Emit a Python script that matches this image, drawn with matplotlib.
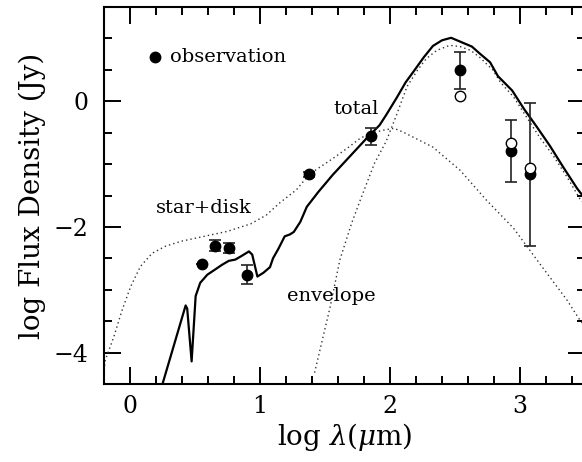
import matplotlib
matplotlib.use("Agg")
import matplotlib.pyplot as plt
from matplotlib.ticker import MultipleLocator

plt.rcParams['font.family'] = ['DejaVu Serif']
plt.rcParams['mathtext.fontset'] = 'dejavuserif'

# observed photometry (log lambda [um], log F [Jy])
obs_x = [0.55, 0.65, 0.76, 0.90, 1.38, 1.85, 2.54, 2.93, 3.08]
obs_y = [-2.59, -2.30, -2.34, -2.76, -1.16, -0.56, 0.49, -0.79, -1.16]
obs_err = [0.0, 0.09, 0.08, 0.15, 0.04, 0.14, 0.30, 0.49, 1.14]
open_x = [2.54, 2.93, 3.08]
open_y = [0.09, -0.66, -1.07]

# model: total
total_x = [0.25, 0.428, 0.44, 0.474, 0.505, 0.54, 0.595, 0.646, 0.71, 0.76, 0.81,
           0.86, 0.915, 0.94, 0.98, 1.026, 1.077, 1.10, 1.141, 1.19, 1.23, 1.26,
           1.31, 1.36, 1.45, 1.56, 1.69, 1.82, 1.92, 1.97, 2.05, 2.12, 2.18, 2.26,
           2.33, 2.40, 2.47, 2.55, 2.63, 2.69, 2.77, 2.83, 2.94, 3.03, 3.13, 3.23,
           3.33, 3.44, 3.50]
total_y = [-4.50, -3.25, -3.30, -4.14, -3.10, -2.89, -2.76, -2.69, -2.60, -2.54, -2.52,
           -2.46, -2.39, -2.44, -2.79, -2.73, -2.64, -2.50, -2.35, -2.15, -2.12, -2.08,
           -1.92, -1.68, -1.44, -1.17, -0.88, -0.59, -0.38, -0.22, 0.05, 0.30, 0.47, 0.70,
           0.88, 0.97, 1.01, 0.94, 0.87, 0.76, 0.62, 0.40, 0.17, -0.12, -0.41, -0.71,
           -1.04, -1.39, -1.55]

# model: star+disk
sd_x = [-0.20, -0.19, -0.123, -0.06, 0.005, 0.08, 0.17, 0.27, 0.39, 0.57, 0.75, 0.93,
        1.05, 1.15, 1.28, 1.38, 1.54, 1.67, 1.77, 1.85, 1.95, 2.03, 2.10, 2.33, 2.54,
        2.74, 2.95, 3.15, 3.36, 3.46, 3.50]
sd_y = [-4.28, -4.12, -3.74, -3.32, -2.95, -2.63, -2.42, -2.31, -2.23, -2.15, -2.07, -1.95,
        -1.81, -1.62, -1.41, -1.16, -0.94, -0.75, -0.59, -0.51, -0.46, -0.43, -0.49, -0.73,
        -1.10, -1.57, -2.02, -2.58, -3.16, -3.48, -3.58]

# model: envelope
env_x = [1.42, 1.54, 1.615, 1.705, 1.77, 1.88, 1.97, 2.05, 2.13, 2.21, 2.28, 2.36,
         2.46, 2.54, 2.62, 2.69, 2.79, 2.85, 2.95, 3.05, 3.15, 3.26, 3.36, 3.46, 3.50]
env_y = [-4.32, -3.27, -2.52, -1.94, -1.58, -0.99, -0.64, -0.22, 0.23, 0.49, 0.68, 0.81,
         0.89, 0.87, 0.81, 0.70, 0.50, 0.30, 0.07, -0.25, -0.57, -0.88, -1.20, -1.55, -1.65]

fig = plt.figure(figsize=(5.82, 4.62), dpi=100)
ax = fig.add_axes([104/582, 1-384/462, 481/582, 377/462])

dot = (0, (1, 2.2))
ax.plot(sd_x, sd_y, color='#333333', lw=1.0, linestyle=dot)
ax.plot(env_x, env_y, color='#333333', lw=1.0, linestyle=dot)
ax.plot(total_x, total_y, color='black', lw=1.6, solid_joinstyle='round')

ax.errorbar(obs_x, obs_y, yerr=obs_err, fmt='o', color='black', ms=7.5,
            ecolor='#222222', elinewidth=1.2, capsize=4.5, capthick=1.2, zorder=5)
ax.plot(open_x, open_y, 'o', mfc='white', mec='black', mew=1.0, ms=7.5, zorder=6)

# legend-like marker and labels
ax.plot([0.19], [0.70], 'o', color='black', ms=7.5)
ax.text(0.31, 0.71, 'observation', fontsize=14, va='center', ha='left')
ax.text(1.74, -0.12, 'total', fontsize=14, va='center', ha='center')
ax.text(0.57, -1.70, 'star+disk', fontsize=14, va='center', ha='center')
ax.text(1.21, -3.10, 'envelope', fontsize=14, va='center', ha='left')

ax.set_xlim(-0.2, 3.5)
ax.set_ylim(-4.5, 1.5)
ax.xaxis.set_major_locator(MultipleLocator(1))
ax.xaxis.set_minor_locator(MultipleLocator(0.2))
ax.yaxis.set_major_locator(MultipleLocator(2))
ax.yaxis.set_minor_locator(MultipleLocator(0.5))
ax.tick_params(which='both', direction='in', top=True, right=True, width=1.4)
ax.tick_params(which='major', length=12, labelsize=17)
ax.tick_params(which='minor', length=6)
ax.tick_params(axis='x', which='major', pad=8)
ax.tick_params(axis='y', which='major', pad=11)
for s in ax.spines.values():
    s.set_linewidth(1.5)

ax.set_xlabel(r'log $\lambda$($\mu$m)', fontsize=20, labelpad=2)
ax.set_ylabel('log Flux Density (Jy)', fontsize=20, labelpad=6)

fig.savefig('out.png', dpi=100)
